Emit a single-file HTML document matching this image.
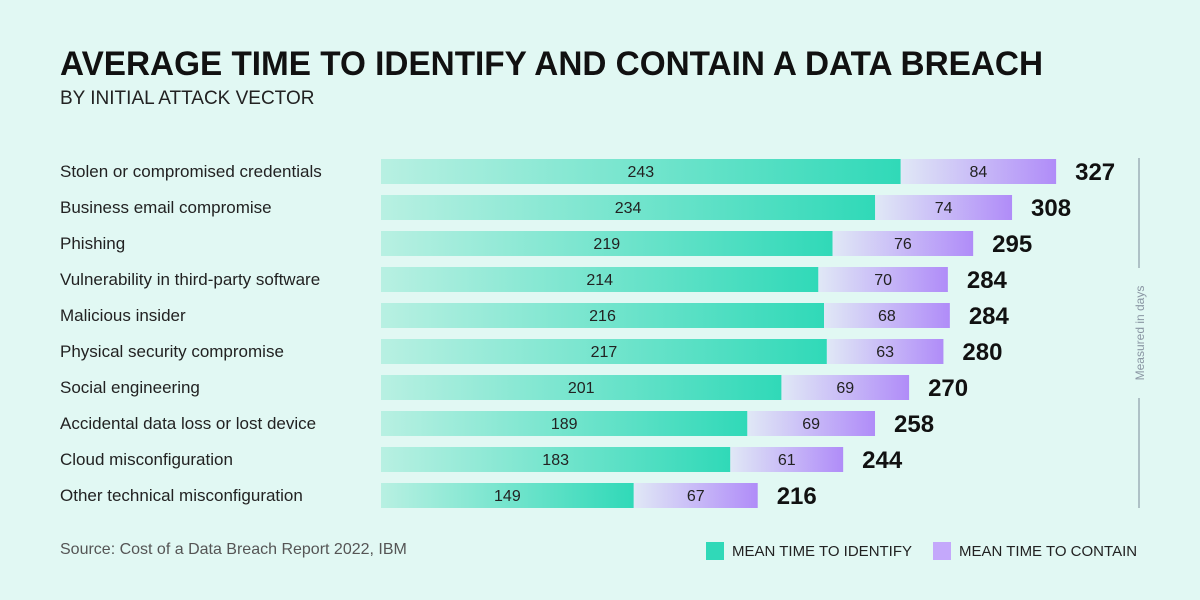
<!DOCTYPE html>
<html><head><meta charset="utf-8"><style>
body{margin:0;width:1200px;height:600px;background:#e1f8f3;font-family:"Liberation Sans",sans-serif;overflow:hidden}
svg{display:block}
</style></head><body>
<svg id="chart" width="1200" height="600">
<defs>
<linearGradient id="gId" x1="0" x2="1" y1="0" y2="0"><stop offset="0" stop-color="#b8f0e2"/><stop offset="1" stop-color="#30d9b8"/></linearGradient>
<linearGradient id="gCo" x1="0" x2="1" y1="0" y2="0"><stop offset="0" stop-color="#e0e8f6"/><stop offset="1" stop-color="#b08cf8"/></linearGradient>
</defs>
<rect width="1200" height="600" fill="#e1f8f3"/>
<text x="60" y="75" font-size="34" font-weight="900" fill="#111" textLength="983" lengthAdjust="spacingAndGlyphs">AVERAGE TIME TO IDENTIFY AND CONTAIN A DATA BREACH</text>
<text x="60" y="104" font-size="19" fill="#222">BY INITIAL ATTACK VECTOR</text>
<g id="rows"></g>
<line x1="1139" y1="158" x2="1139" y2="268" stroke="#7a8a99" stroke-width="1"/>
<line x1="1139" y1="398" x2="1139" y2="508" stroke="#7a8a99" stroke-width="1"/>
<text transform="translate(1144,333) rotate(-90)" text-anchor="middle" font-size="12" fill="#8a96a3">Measured in days</text>
<text x="60" y="554" font-size="16" fill="#555">Source: Cost of a Data Breach Report 2022, IBM</text>
<rect x="706" y="542" width="18" height="18" fill="#30d9b8"/>
<text x="732" y="556" font-size="15" fill="#222">MEAN TIME TO IDENTIFY</text>
<rect x="933" y="542" width="18" height="18" fill="#c4a8fb"/>
<text x="959" y="556" font-size="15" fill="#222">MEAN TIME TO CONTAIN</text>
</svg>
<script>
const categories=["Stolen or compromised credentials","Business email compromise","Phishing","Vulnerability in third-party software","Malicious insider","Physical security compromise","Social engineering","Accidental data loss or lost device","Cloud misconfiguration","Other technical misconfiguration"];
const identify=[243,234,219,214,216,217,201,189,183,149];
const contain=[84,74,76,70,68,63,69,69,61,67];
const NS="http://www.w3.org/2000/svg";
const x0=381, domainMin=60, kId=2.84, kCo=1.85;
function xs(v){return x0+(v-domainMin)*kId;}
function wc(v){return v*kCo;}
function yRow(i){return 159+i*36;}
const g=document.getElementById('rows');
function mk(t,a){const e=document.createElementNS(NS,t);for(const n in a)e.setAttribute(n,a[n]);g.appendChild(e);return e;}
categories.forEach((c,i)=>{
  const y=yRow(i), total=identify[i]+contain[i];
  const xMid=xs(identify[i]), xEnd=xMid+wc(contain[i]);
  let t=mk('text',{x:60,y:y+18,'font-size':17,fill:'#222'});t.textContent=c;
  
  
  let r=mk('rect',{x:x0,y:y,width:Math.max(0,xMid-x0),height:25,fill:'url(#gId)'});
  
  
  let r2=mk('rect',{x:xMid,y:y,width:wc(contain[i]),height:25,fill:'url(#gCo)'});
  
  
  let l1=mk('text',{x:(x0+xMid)/2,y:y+18,'font-size':16,fill:'#222','text-anchor':'middle'});l1.textContent=identify[i];
  
  
  let l2=mk('text',{x:(xMid+xEnd)/2,y:y+18,'font-size':16,fill:'#222','text-anchor':'middle'});l2.textContent=contain[i];
  
  
  let l3=mk('text',{x:xEnd+19,y:y+21,'font-size':24,'font-weight':'900',fill:'#111'});l3.textContent=total;
  
  
});
</script>
</body></html>
